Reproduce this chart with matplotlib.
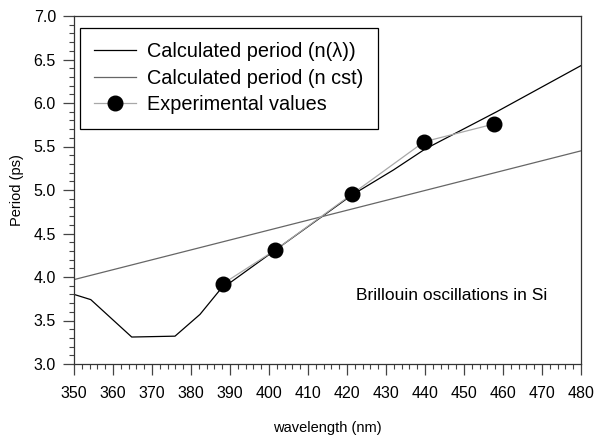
import matplotlib
matplotlib.use("Agg")
import matplotlib.pyplot as plt
from matplotlib.ticker import MultipleLocator

plt.rcParams['font.family'] = ['Liberation Sans', 'DejaVu Sans']

# calculated period with dispersion n(lambda)
wl_calc = [350, 354.3, 364.8, 375.9, 382.3, 387.4, 400.7, 421.2, 431.9, 440.0, 458.4, 480]
period_calc = [3.80, 3.74, 3.31, 3.32, 3.57, 3.85, 4.28, 4.94, 5.23, 5.47, 5.90, 6.43]

# calculated period with constant n
wl_cst = [350, 480]
period_cst = [3.97, 5.45]

# experimental values
wl_exp = [388.1, 401.6, 421.2, 439.8, 457.8]
period_exp = [3.92, 4.31, 4.95, 5.555, 5.76]

fig = plt.figure(figsize=(5.94, 4.37), dpi=100)
ax = fig.add_axes([74/594, 73/437, 507/594, 348/437])

ax.plot(wl_calc, period_calc, color='black', lw=0.9, label='Calculated period (n(λ))')
ax.plot(wl_cst, period_cst, color='#666666', lw=0.9, label='Calculated period (n cst)')
ax.plot(wl_exp, period_exp, color='#a8a8a8', lw=0.9, marker='o', markersize=10.5,
        markerfacecolor='black', markeredgecolor='black', label='Experimental values')

ax.set_xlim(350, 480)
ax.set_ylim(3.0, 7.0)
ax.xaxis.set_major_locator(MultipleLocator(10))
ax.xaxis.set_minor_locator(MultipleLocator(2))
ax.yaxis.set_major_locator(MultipleLocator(0.5))
ax.yaxis.set_minor_locator(MultipleLocator(0.1))
ax.yaxis.set_major_formatter(matplotlib.ticker.FormatStrFormatter('%.1f'))

ax.tick_params(which='major', direction='out', length=8, width=0.9, labelsize=11.5, color='#444444')
ax.tick_params(axis='x', which='major', pad=8)
ax.tick_params(axis='y', which='major', pad=5)
ax.tick_params(which='minor', direction='out', length=3.5, width=0.8, color='#444444')
for s in ax.spines.values():
    s.set_linewidth(0.9)
    s.set_color('#333333')

ax.set_xlabel('wavelength (nm)', fontsize=10.5, va='center')
ax.xaxis.set_label_coords(0.5, (364 - 428) / 348)
ax.set_ylabel('Period (ps)', fontsize=10.5, va='center')
ax.yaxis.set_label_coords((17 - 74) / 507, 0.5)

ax.text(422.3, 3.79, 'Brillouin oscillations in Si', fontsize=12.5, va='center', ha='left')

leg = ax.legend(loc='upper left', bbox_to_anchor=(80/594, 1 - 28/437),
                bbox_transform=fig.transFigure, borderaxespad=0, fontsize=14.3,
                frameon=True, fancybox=False, framealpha=1, edgecolor='black',
                handlelength=2.1, handletextpad=0.55, labelspacing=0.38, borderpad=0.72)
leg.get_frame().set_linewidth(0.9)

fig.savefig('out.png', dpi=100)
